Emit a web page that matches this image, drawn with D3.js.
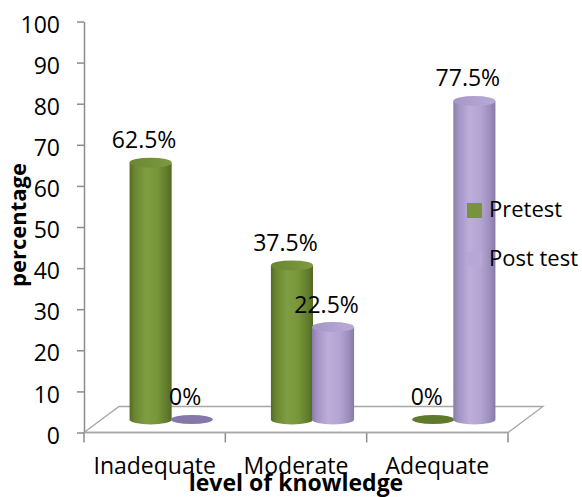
<!DOCTYPE html>
<html>
<head>
<meta charset="utf-8">
<script src="https://cdn.jsdelivr.net/npm/d3@7"></script>
<style>
  html, body { margin: 0; padding: 0; background: #fff; }
  svg text { font-family: "Open Sans", "Noto Sans", sans-serif; fill: #000; }
</style>
</head>
<body>
<svg id="chart" width="582" height="497"></svg>
<script>
// Knowledge levels before and after the intervention (percent of respondents)
const categories = ["Inadequate", "Moderate", "Adequate"];
const seriesNames = ["Pretest", "Post test"];
const pretest = [62.5, 37.5, 0];
const posttest = [0, 22.5, 77.5];
const yTicks = [0, 10, 20, 30, 40, 50, 60, 70, 80, 90, 100];

const svg = d3.select("#chart");

// front plane of the 3-D box
const y = d3.scaleLinear().domain([0, 100]).range([432.5, 21.5]);
const x = d3.scaleBand().domain(categories).range([84, 508]);
const xs = d3.scaleBand().domain(seriesNames).range([0, x.bandwidth()])
  .paddingInner(0).paddingOuter(0.72);

// floor depth and the plane the cylinders stand on (half depth)
const depth = { dx: 35, dy: -26 };
const mid = { dx: depth.dx / 2 - 1, dy: depth.dy / 2 };
const ry = 5;

const axisColor = "#8c8c8c";

// gradients for the cylinders
const defs = svg.append("defs");
function hGrad(id, stops) {
  const g = defs.append("linearGradient").attr("id", id)
    .attr("x1", "0%").attr("x2", "100%").attr("y1", "0%").attr("y2", "0%");
  stops.forEach(s => g.append("stop").attr("offset", s[0]).attr("stop-color", s[1]));
}
hGrad("bodyPre", [["0%", "#556b25"], ["12%", "#6a8631"], ["38%", "#7f9d42"], ["65%", "#789639"], ["88%", "#617c2d"], ["100%", "#536824"]]);
hGrad("bodyPost", [["0%", "#8a7ca9"], ["12%", "#a294c3"], ["38%", "#bcaddb"], ["65%", "#b4a4d3"], ["88%", "#9b8dbb"], ["100%", "#887aa6"]]);
hGrad("topPre", [["0%", "#6a8632"], ["100%", "#7d9b40"]]);
hGrad("topPost", [["0%", "#a596c5"], ["100%", "#b9aad8"]]);

const series = [
  { name: seriesNames[0], values: pretest, body: "url(#bodyPre)", top: "url(#topPre)", flat: "#5f7a2b", key: "#77933c" },
  { name: seriesNames[1], values: posttest, body: "url(#bodyPost)", top: "url(#topPost)", flat: "#8577a7", key: "#b7a7d6" }
];

// floor outline
const x0 = x.range()[0], x1 = x.range()[1], yb = y(0);
svg.append("path")
  .attr("d", `M${x0},${yb} L${x0 + depth.dx},${yb + depth.dy} L${x1 + depth.dx},${yb + depth.dy} L${x1},${yb} Z`)
  .attr("fill", "none").attr("stroke", "#a6a6a6").attr("stroke-width", 1.3);

// value axis
const yAxis = d3.axisLeft(y).tickValues(yTicks).tickSize(7).tickSizeOuter(0).tickPadding(17);
const gy = svg.append("g").attr("transform", `translate(${x0},0)`).call(yAxis);
gy.select(".domain").attr("stroke", axisColor).attr("stroke-width", 1.5);
gy.selectAll(".tick line").attr("stroke", axisColor).attr("stroke-width", 1.5);
gy.selectAll(".tick text").attr("font-size", 23).attr("dy", "0.68em").attr("y", -5)
  .style("font-family", "'Open Sans', sans-serif").attr("fill", "#000");

// category axis: boundary ticks and labels
const bounds = categories.map(c => x(c)).concat([x1]);
svg.append("g").selectAll("line").data(bounds).join("line")
  .attr("x1", d => d).attr("x2", d => d)
  .attr("y1", yb).attr("y2", yb + 10)
  .attr("stroke", axisColor).attr("stroke-width", 1.5);
svg.append("line").attr("x1", x0).attr("x2", x1).attr("y1", yb).attr("y2", yb)
  .attr("stroke", "#a6a6a6").attr("stroke-width", 1.3);

svg.append("g").selectAll("text").data(categories).join("text")
  .attr("x", d => x(d) + x.bandwidth() / 2)
  .attr("y", 474)
  .attr("text-anchor", "middle")
  .attr("font-size", 23)
  .text(d => d);

// cylinders
const rx = xs.bandwidth() / 2 + 0.5;
series.forEach(s => {
  const g = svg.append("g");
  categories.forEach((c, i) => {
    const v = s.values[i];
    const cx = x(c) + xs(s.name) + xs.bandwidth() / 2 + mid.dx;
    const yBase = y(0) + mid.dy;
    const yTop = y(v) + mid.dy;
    if (v === 0) {
      g.append("ellipse").attr("cx", cx).attr("cy", yBase).attr("rx", rx).attr("ry", ry - 0.5)
        .attr("fill", s.flat);
    } else {
      g.append("path")
        .attr("d", `M${cx - rx},${yTop} L${cx - rx},${yBase} A${rx},${ry} 0 0 0 ${cx + rx},${yBase} L${cx + rx},${yTop} Z`)
        .attr("fill", s.body);
      g.append("ellipse").attr("cx", cx).attr("cy", yTop).attr("rx", rx).attr("ry", ry)
        .attr("fill", s.top);
    }
  });
});

// value labels
series.forEach(s => {
  svg.append("g").selectAll("text").data(categories).join("text")
    .attr("x", (c) => x(c) + xs(s.name) + xs.bandwidth() / 2 + mid.dx - 6.5)
    .attr("y", (c, i) => y(s.values[i]) + mid.dy - 14.5)
    .attr("text-anchor", "middle")
    .attr("font-size", 23)
    .text((c, i) => s.values[i] + "%");
});

// legend
const legend = svg.append("g");
series.forEach((s, i) => {
  const ly = 203 + i * 49;
  legend.append("rect").attr("x", 467).attr("y", ly).attr("width", 15).attr("height", 15)
    .attr("fill", s.key);
  legend.append("text").attr("x", 489).attr("y", ly + 14).attr("font-size", 22).text(s.name);
});

// axis titles
svg.append("text")
  .attr("transform", `translate(26,225) rotate(-90)`)
  .attr("text-anchor", "middle")
  .attr("font-size", 22).attr("font-weight", "bold")
  .text("percentage");
svg.append("text")
  .attr("x", 296).attr("y", 491)
  .attr("text-anchor", "middle")
  .attr("font-size", 23).attr("font-weight", "bold")
  .text("level of knowledge");
</script>
</body>
</html>
